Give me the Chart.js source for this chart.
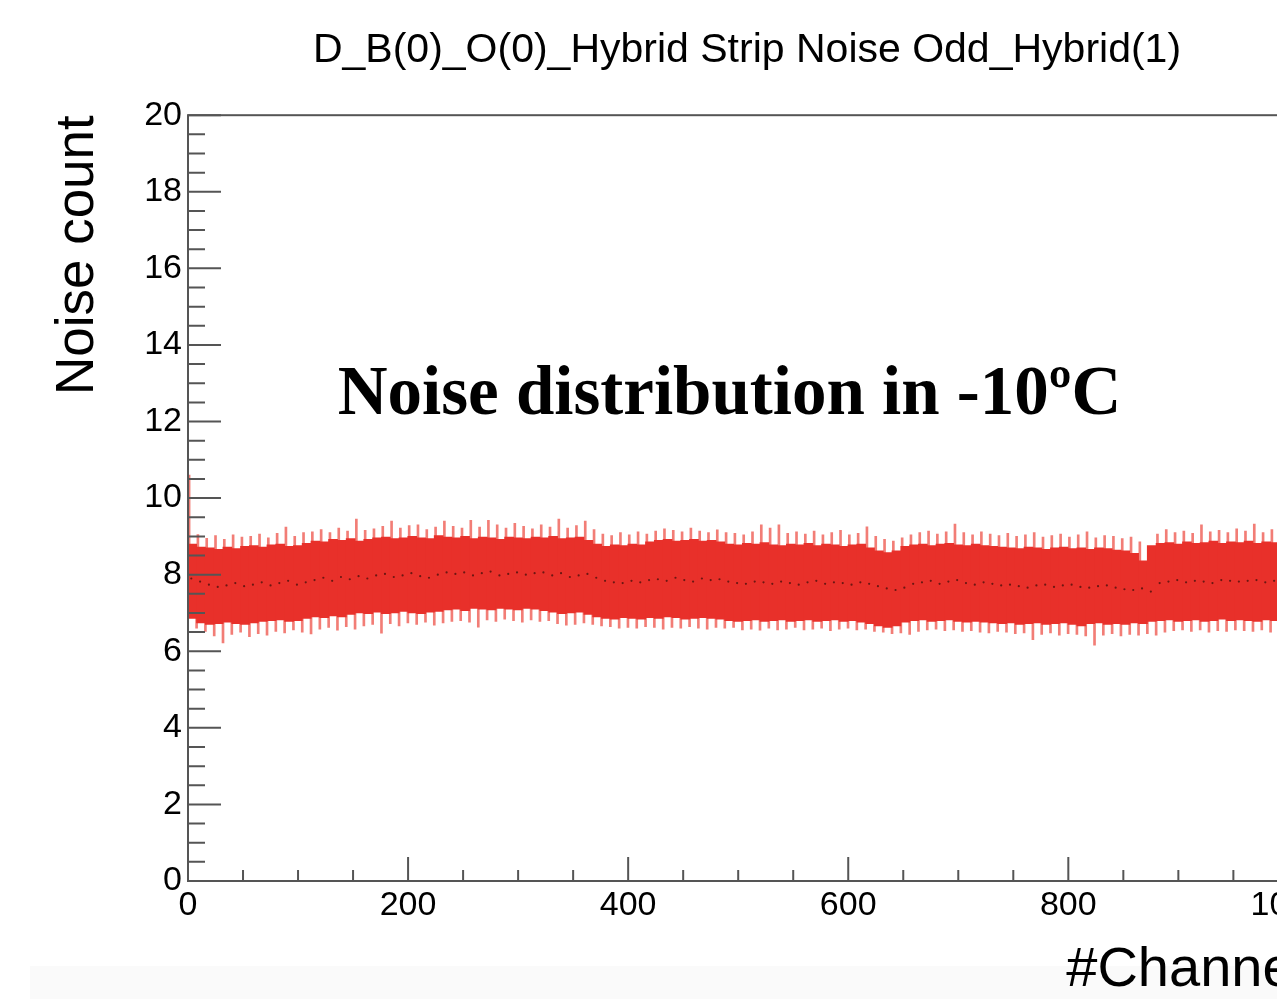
<!DOCTYPE html>
<html>
<head>
<meta charset="utf-8">
<script src="https://cdn.jsdelivr.net/npm/chart.js@4.4.1/dist/chart.umd.min.js"></script>
<style>
  html, body { margin: 0; padding: 0; background: #fff; overflow: hidden; }
</style>
</head>
<body>
<canvas id="chart" width="1400" height="999"></canvas>
<script>
// Strip noise of hybrid 1 in groups of 8 channels (group g = channels 8g..8g+7)
var groupSize = 8;

// top / bottom of the solid part of the band
var coreHi = [
  8.85, 8.80, 8.72, 8.70, 8.66, 8.72, 8.68, 8.74, 8.76, 8.72,
  8.78, 8.80, 8.74, 8.76, 8.82, 8.88, 8.86, 8.92, 8.90, 8.94,
  8.88, 8.92, 8.96, 8.98, 8.94, 8.96, 9.00, 8.96, 8.94, 9.02,
  8.98, 8.96, 9.00, 8.94, 8.98, 8.96, 8.92, 8.98, 8.96, 8.94,
  8.98, 8.96, 9.00, 8.94, 8.96, 8.98, 8.90, 8.80, 8.74, 8.78,
  8.76, 8.80, 8.78, 8.86, 8.90, 8.92, 8.88, 8.90, 8.92, 8.88,
  8.90, 8.86, 8.80, 8.78, 8.82, 8.80, 8.84, 8.78, 8.76, 8.80,
  8.78, 8.82, 8.76, 8.80, 8.78, 8.74, 8.78, 8.80, 8.70, 8.62,
  8.58, 8.62, 8.74, 8.78, 8.80, 8.76, 8.80, 8.82, 8.78, 8.76,
  8.80, 8.76, 8.74, 8.72, 8.70, 8.68, 8.72, 8.70, 8.66, 8.70,
  8.72, 8.68, 8.70, 8.66, 8.70, 8.68, 8.64, 8.62, 8.56, 8.36,
  8.76, 8.82, 8.84, 8.80, 8.86, 8.82, 8.84, 8.88, 8.82, 8.86,
  8.84, 8.88, 8.82, 8.86, 8.84, 8.82, 8.80
];
var coreLo = [
  6.92, 6.86, 6.74, 6.70, 6.72, 6.76, 6.72, 6.70, 6.74, 6.78,
  6.80, 6.82, 6.78, 6.80, 6.86, 6.90, 6.88, 6.92, 6.90, 6.96,
  7.00, 6.98, 7.02, 6.98, 7.00, 7.04, 7.00, 6.98, 7.02, 7.04,
  7.08, 7.10, 7.06, 7.12, 7.10, 7.08, 7.12, 7.10, 7.08, 7.12,
  7.10, 7.06, 7.02, 6.98, 7.00, 7.02, 6.96, 6.90, 6.86, 6.84,
  6.88, 6.86, 6.84, 6.88, 6.86, 6.90, 6.88, 6.84, 6.86, 6.88,
  6.86, 6.84, 6.80, 6.78, 6.80, 6.82, 6.78, 6.80, 6.82, 6.78,
  6.80, 6.82, 6.78, 6.80, 6.82, 6.78, 6.80, 6.76, 6.72, 6.66,
  6.62, 6.66, 6.76, 6.80, 6.82, 6.78, 6.80, 6.82, 6.78, 6.76,
  6.78, 6.76, 6.74, 6.72, 6.74, 6.70, 6.72, 6.74, 6.70, 6.72,
  6.74, 6.70, 6.66, 6.72, 6.74, 6.70, 6.72, 6.70, 6.74, 6.72,
  6.78, 6.80, 6.82, 6.78, 6.80, 6.82, 6.78, 6.80, 6.84, 6.80,
  6.82, 6.80, 6.78, 6.82, 6.80, 6.80, 6.82
];

// highest and lowest single-channel spike in each group
var spikeHi = [
  10.60, 9.05, 8.95, 9.02, 8.92, 9.04, 8.98, 9.00, 9.06, 8.96,
  9.08, 9.24, 9.00, 9.10, 9.12, 9.18, 9.10, 9.22, 9.14, 9.45,
  9.16, 9.20, 9.26, 9.40, 9.22, 9.28, 9.30, 9.18, 9.24, 9.40,
  9.26, 9.22, 9.42, 9.24, 9.42, 9.30, 9.22, 9.34, 9.26, 9.20,
  9.30, 9.24, 9.45, 9.22, 9.28, 9.40, 9.18, 9.06, 9.02, 9.10,
  9.04, 9.12, 9.06, 9.14, 9.20, 9.16, 9.12, 9.22, 9.14, 9.10,
  9.17, 9.10, 9.08, 9.04, 9.12, 9.30, 9.22, 9.30, 9.08, 9.12,
  9.06, 9.14, 9.04, 9.10, 9.16, 9.04, 9.08, 9.25, 9.00, 8.92,
  8.88, 8.96, 9.04, 9.10, 9.14, 9.06, 9.12, 9.32, 9.10, 9.04,
  9.12, 9.06, 9.02, 9.08, 9.00, 9.04, 9.10, 8.98, 9.02, 9.06,
  8.98, 9.04, 9.12, 8.96, 9.02, 9.00, 8.94, 8.98, 8.86, 8.70,
  9.06, 9.18, 9.10, 9.14, 9.08, 9.30, 9.12, 9.16, 9.10, 9.20,
  9.14, 9.32, 9.10, 9.18, 9.12, 9.10, 9.08
];
var spikeLo = [
  6.60, 6.52, 6.40, 6.22, 6.44, 6.50, 6.38, 6.46, 6.42, 6.52,
  6.48, 6.56, 6.50, 6.45, 6.58, 6.62, 6.55, 6.64, 6.58, 6.66,
  6.70, 6.47, 6.72, 6.66, 6.74, 6.70, 6.76, 6.68, 6.74, 6.78,
  6.80, 6.76, 6.63, 6.82, 6.78, 6.84, 6.80, 6.76, 6.82, 6.78,
  6.80, 6.72, 6.68, 6.70, 6.74, 6.70, 6.66, 6.64, 6.60, 6.62,
  6.60, 6.64, 6.62, 6.58, 6.62, 6.60, 6.64, 6.60, 6.58, 6.62,
  6.60, 6.62, 6.56, 6.58, 6.55, 6.60, 6.56, 6.58, 6.62, 6.56,
  6.58, 6.60, 6.54, 6.58, 6.60, 6.56, 6.58, 6.52, 6.50, 6.46,
  6.48, 6.44, 6.52, 6.56, 6.58, 6.54, 6.56, 6.52, 6.54, 6.50,
  6.48, 6.52, 6.50, 6.46, 6.48, 6.30, 6.44, 6.48, 6.42, 6.46,
  6.44, 6.40, 6.16, 6.42, 6.46, 6.40, 6.44, 6.42, 6.46, 6.42,
  6.50, 6.54, 6.56, 6.52, 6.56, 6.50, 6.54, 6.52, 6.56, 6.54,
  6.52, 6.56, 6.50, 6.54, 6.52, 6.54, 6.52
];

// bin contents (the dark dots in the middle of the band)
var noise = [
  7.90, 7.82, 7.74, 7.68, 7.72, 7.78, 7.70, 7.74, 7.80, 7.72,
  7.78, 7.84, 7.74, 7.80, 7.86, 7.92, 7.84, 7.94, 7.88, 7.96,
  7.90, 7.98, 8.02, 7.94, 7.98, 8.04, 7.96, 7.92, 8.00, 8.06,
  8.02, 8.06, 7.98, 8.04, 8.08, 7.98, 8.02, 8.06, 8.00, 8.04,
  8.06, 7.98, 8.04, 7.94, 7.98, 8.02, 7.92, 7.84, 7.80, 7.78,
  7.84, 7.80, 7.86, 7.88, 7.84, 7.92, 7.86, 7.82, 7.90, 7.86,
  7.88, 7.82, 7.78, 7.76, 7.82, 7.80, 7.76, 7.82, 7.78, 7.74,
  7.80, 7.84, 7.76, 7.80, 7.78, 7.74, 7.80, 7.76, 7.70, 7.64,
  7.60, 7.66, 7.76, 7.80, 7.84, 7.76, 7.82, 7.86, 7.78, 7.74,
  7.80, 7.76, 7.72, 7.74, 7.70, 7.66, 7.72, 7.74, 7.68, 7.72,
  7.74, 7.68, 7.66, 7.70, 7.72, 7.66, 7.62, 7.60, 7.64, 7.56,
  7.78, 7.82, 7.86, 7.80, 7.84, 7.82, 7.78, 7.86, 7.84, 7.82,
  7.84, 7.86, 7.80, 7.84, 7.82, 7.80, 7.82
];

var xMax = 1016;
var yMax = 20;
var xTickValues = [0, 200, 400, 600, 800, 1000];
var yTickValues = [0, 2, 4, 6, 8, 10, 12, 14, 16, 18, 20];

var band = [], upSpikes = [], downSpikes = [], dots = [];
for (var g = 0; g < coreHi.length; g++) {
  var start = g * groupSize;
  var mid = (coreHi[g] + coreLo[g]) / 2;
  band.push({ x: start + groupSize / 2, y: [coreLo[g], coreHi[g]] });
  upSpikes.push({ x: start + 1, y: [mid, spikeHi[g]] });
  downSpikes.push({ x: start + 6, y: [spikeLo[g], mid] });
  dots.push({ x: start + 3, y: noise[g] });
}

var sans = '"Liberation Sans", Arial, sans-serif';

// ROOT style frame: inward ticks, framed pad, label in the pad
var rootFrame = {
  id: 'rootFrame',
  beforeDraw: function(chart) {
    var c = chart.ctx;
    c.save();
    c.fillStyle = '#fafafa';
    c.fillRect(30, 966, chart.width - 30, chart.height - 966);
    c.restore();
  },
  afterDraw: function(chart) {
    var c = chart.ctx, a = chart.chartArea, x = chart.scales.x, y = chart.scales.y;
    c.save();
    c.strokeStyle = '#555';
    c.lineWidth = 2;
    c.strokeRect(a.left, a.top, a.right - a.left, a.bottom - a.top);
    c.beginPath();
    for (var v = 0; v <= yMax; v += 0.5) {
      var py = y.getPixelForValue(v);
      c.moveTo(a.left, py);
      c.lineTo(a.left + (v % 2 === 0 ? 33 : 17), py);
    }
    for (var h = 0; h <= xMax; h += 50) {
      var px = x.getPixelForValue(h);
      c.moveTo(px, a.bottom);
      c.lineTo(px, a.bottom - (h % 200 === 0 ? 24 : 11));
    }
    c.stroke();

    c.fillStyle = '#000';
    c.font = 'bold 69px "Liberation Serif", "Times New Roman", serif';
    c.textBaseline = 'alphabetic';
    c.fillText('Noise distribution in -10\u00baC', x.getPixelForValue(136), y.getPixelForValue(12.2));
    c.restore();
  }
};

var ctx = document.getElementById('chart');
var myChart = new Chart(ctx, {
  type: 'bar',
  data: {
    datasets: [{
      label: 'up',
      data: upSpikes,
      backgroundColor: 'rgba(236, 70, 60, 0.7)',
      barThickness: 2,
      order: 2
    }, {
      label: 'down',
      data: downSpikes,
      backgroundColor: 'rgba(236, 70, 60, 0.7)',
      barThickness: 2,
      order: 2
    }, {
      label: 'Noise',
      data: band,
      backgroundColor: '#e8302a',
      barThickness: 9,
      order: 1
    }, {
      type: 'line',
      label: 'value',
      data: dots,
      showLine: false,
      pointRadius: 1.1,
      pointBorderWidth: 0,
      pointBackgroundColor: '#6b1712',
      order: 0
    }]
  },
  options: {
    responsive: false,
    animation: false,
    layout: { padding: { left: 52, top: 0, right: 94, bottom: 0 } },
    plugins: {
      legend: { display: false },
      tooltip: { enabled: false },
      title: {
        display: true,
        fullSize: false,
        text: 'D_B(0)_O(0)_Hybrid Strip Noise Odd_Hybrid(1)',
        color: '#000',
        font: { family: sans, size: 41, weight: 'normal', lineHeight: 1.2 },
        padding: { top: 26, bottom: 40 }
      }
    },
    scales: {
      x: {
        type: 'linear',
        min: 0,
        max: xMax,
        offset: false,
        grid: { display: false, drawTicks: false },
        border: { display: false },
        afterBuildTicks: function(s) { s.ticks = xTickValues.map(function(v) { return { value: v }; }); },
        afterFit: function(s) { s.height = 118; },
        ticks: {
          color: '#000',
          padding: 4,
          maxRotation: 0,
          autoSkip: false,
          callback: function(v) { return String(v); },
          font: { family: sans, size: 34 }
        },
        title: {
          display: true,
          text: '#Channel',
          align: 'end',
          color: '#000',
          padding: 0,
          font: { family: sans, size: 56, lineHeight: 1 }
        }
      },
      y: {
        min: 0,
        max: yMax,
        grid: { display: false, drawTicks: false },
        border: { display: false },
        afterBuildTicks: function(s) { s.ticks = yTickValues.map(function(v) { return { value: v }; }); },
        afterFit: function(s) { s.width = 136; },
        ticks: {
          color: '#000',
          padding: 6,
          autoSkip: false,
          callback: function(v) { return String(v); },
          font: { family: sans, size: 34 }
        },
        title: {
          display: true,
          text: 'Noise count',
          align: 'end',
          color: '#000',
          padding: 0,
          font: { family: sans, size: 53, lineHeight: 1 }
        }
      }
    }
  },
  plugins: [rootFrame]
});
</script>
</body>
</html>
